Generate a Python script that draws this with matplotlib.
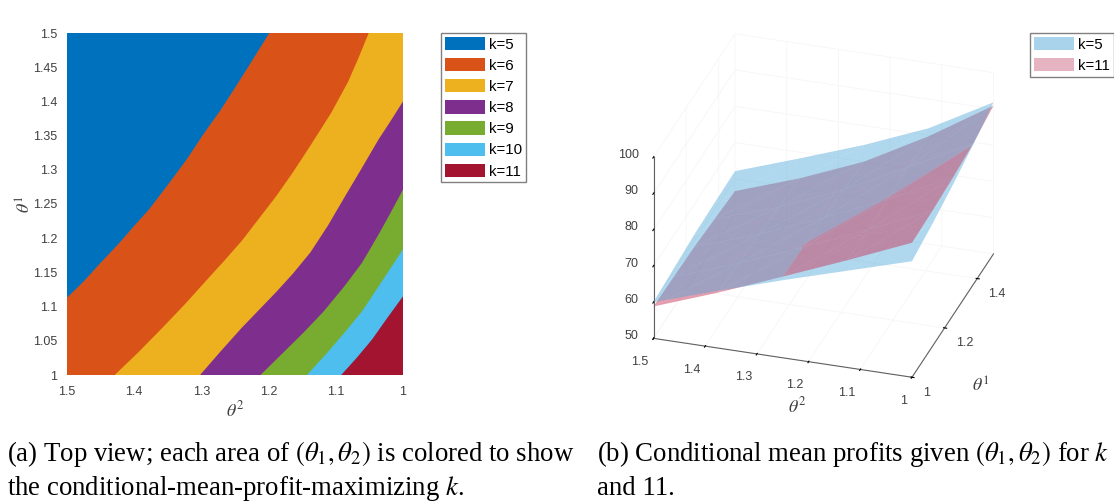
import matplotlib
matplotlib.use("Agg")
import matplotlib.pyplot as plt
from matplotlib.patches import Patch
from mpl_toolkits.mplot3d.art3d import Poly3DCollection
import numpy as np

plt.rcParams["font.family"] = ["Liberation Sans", "DejaVu Sans"]
plt.rcParams["mathtext.fontset"] = "stix"

W, H = 1114, 501

# =========================
# Left panel data: boundaries between k regions (theta2, theta1)
# =========================

k_labels = ["k=5", "k=6", "k=7", "k=8", "k=9", "k=10", "k=11"]
k_colors = ["#0072BD", "#D95319", "#EDB120", "#7E2F8E", "#77AC30", "#4DBEEE", "#A2142F"]

b56_t2 = [1.5, 1.475, 1.45, 1.424, 1.4, 1.378, 1.35, 1.322, 1.297, 1.271, 1.25, 1.23, 1.199]
b56_t1 = [1.113, 1.137, 1.164, 1.191, 1.218, 1.242, 1.278, 1.315, 1.352, 1.388, 1.42, 1.451, 1.5]
b67_t2 = [1.429, 1.394, 1.358, 1.325, 1.291, 1.266, 1.24, 1.189, 1.164, 1.138, 1.107, 1.082, 1.066, 1.051]
b67_t1 = [1.0, 1.033, 1.069, 1.103, 1.14, 1.167, 1.196, 1.261, 1.296, 1.335, 1.383, 1.428, 1.464, 1.5]
b78_t2 = [1.302, 1.271, 1.24, 1.189, 1.164, 1.138, 1.112, 1.087, 1.061, 1.036, 1.018, 1.0]
b78_t1 = [1.0, 1.035, 1.069, 1.121, 1.148, 1.179, 1.218, 1.26, 1.303, 1.345, 1.372, 1.4]
b89_t2 = [1.212, 1.181, 1.148, 1.118, 1.087, 1.061, 1.036, 1.018, 1.0]
b89_t1 = [1.0, 1.03, 1.062, 1.093, 1.13, 1.164, 1.206, 1.238, 1.271]
b910_t2 = [1.143, 1.115, 1.087, 1.061, 1.036, 1.018, 1.0]
b910_t1 = [1.0, 1.03, 1.062, 1.093, 1.13, 1.157, 1.184]
b1011_t2 = [1.092, 1.069, 1.046, 1.023, 1.0]
b1011_t1 = [1.0, 1.025, 1.052, 1.084, 1.115]

boundaries = [(b56_t2, b56_t1), (b67_t2, b67_t1), (b78_t2, b78_t1),
              (b89_t2, b89_t1), (b910_t2, b910_t1), (b1011_t2, b1011_t1)]

x_ticks_left = [1.5, 1.4, 1.3, 1.2, 1.1, 1.0]
x_labels_left = ["1.5", "1.4", "1.3", "1.2", "1.1", "1"]
y_ticks_left = [1, 1.05, 1.1, 1.15, 1.2, 1.25, 1.3, 1.35, 1.4, 1.45, 1.5]
y_labels_left = ["1", "1.05", "1.1", "1.15", "1.2", "1.25", "1.3", "1.35", "1.4", "1.45", "1.5"]

# =========================
# Right panel data: surfaces on a 5x5 grid
# =========================

theta2_grid = [1.5, 1.375, 1.25, 1.125, 1.0]
theta1_grid = [1.0, 1.125, 1.25, 1.375, 1.5]
# rows follow theta1_grid, columns follow theta2_grid
profit_k5 = [[60.0, 65.8, 71.4, 76.7, 82.0],
             [60.8, 66.9, 72.7, 78.2, 83.8],
             [61.6, 67.9, 74.0, 79.9, 86.0],
             [61.9, 68.2, 74.4, 81.2, 88.6],
             [62.1, 68.3, 74.7, 82.0, 91.8]]
profit_k11 = [[58.8, 65.3, 72.4, 79.6, 87.1],
              [58.5, 64.9, 72.0, 79.5, 87.4],
              [58.2, 64.4, 71.6, 79.4, 88.0],
              [57.4, 63.4, 70.9, 79.8, 88.9],
              [56.6, 62.8, 70.1, 79.8, 90.9]]

x_ticks_right = [1.5, 1.4, 1.3, 1.2, 1.1, 1.0]
x_labels_right = ["1.5", "1.4", "1.3", "1.2", "1.1", "1"]
y_ticks_right = [1.0, 1.2, 1.4]
y_labels_right = ["1", "1.2", "1.4"]
z_ticks_right = [50, 60, 70, 80, 90, 100]

TICK_COLOR = "#404040"
BLUE = "#4FA8D8"
PINK = "#C83C5F"


def px_axes(left, top, right, bottom):
    return [left / W, 1 - bottom / H, (right - left) / W, (bottom - top) / H]


fig = plt.figure(figsize=(W / 100, H / 100), dpi=100)

# =========================
# Left panel
# =========================

ax = fig.add_axes(px_axes(67, 33, 403, 375))
ax.set_xlim(1.5, 1.0)
ax.set_ylim(1.0, 1.5)
ax.set_facecolor(k_colors[0])

# each later region is painted over the one before it
for (b_t2, b_t1), color in zip(boundaries, k_colors[1:]):
    xs = list(b_t2)
    ys = list(b_t1)
    if xs[-1] > 1.0:
        xs.append(1.0)
        ys.append(1.5)
    xs.append(1.0)
    ys.append(1.0)
    xs.append(xs[0])
    ys.append(1.0)
    ax.fill(xs, ys, color=color, lw=0)

ax.set_xticks(x_ticks_left, x_labels_left)
ax.set_yticks(y_ticks_left, y_labels_left)
ax.tick_params(length=0, labelsize=9, labelcolor=TICK_COLOR)
ax.tick_params(axis="x", pad=8)
ax.tick_params(axis="y", pad=7)
for s in ax.spines.values():
    s.set_visible(False)
ax.set_xlabel(r"$\theta^2$", fontsize=13, color=TICK_COLOR, labelpad=2)
ax.set_ylabel(r"$\theta^1$", fontsize=13, color=TICK_COLOR, labelpad=-1)

legend_style = dict(loc="upper left", fontsize=10.8, frameon=True, fancybox=False,
                    edgecolor="#808080", framealpha=1, borderaxespad=0, borderpad=0.25,
                    handlelength=2.67, handleheight=1.0, handletextpad=0.3, labelspacing=0.42)

left_handles = [Patch(facecolor=c, edgecolor="none", label=l) for c, l in zip(k_colors, k_labels)]
fig.legend(handles=left_handles, bbox_to_anchor=(441 / W, 1 - 33 / H), **legend_style)

# =========================
# Right panel
# =========================

ax3 = fig.add_axes(px_axes(596, 25.5, 1041, 395.5), projection="3d", computed_zorder=False)
ax3.set_proj_type("ortho")
ax3.view_init(elev=28.5, azim=-72.5)
ax3.set_xlim(1.5, 1.0)
ax3.set_ylim(1.0, 1.5)
ax3.set_zlim(50, 100)
ax3.set_box_aspect((1, 1, 0.761), zoom=1.142)
ax3.patch.set_alpha(0)

Z5 = np.array(profit_k5)
Z11 = np.array(profit_k11)

# each grid cell is split into two triangles, the higher surface goes on top
tri_under = []
tri_over = []
for i in range(Z5.shape[0] - 1):
    for j in range(Z5.shape[1] - 1):
        for tri in ([(i, j), (i, j + 1), (i + 1, j + 1)], [(i, j), (i + 1, j), (i + 1, j + 1)]):
            pts5 = [(theta2_grid[c], theta1_grid[r], Z5[r, c]) for r, c in tri]
            pts11 = [(theta2_grid[c], theta1_grid[r], Z11[r, c]) for r, c in tri]
            if np.mean([Z5[r, c] for r, c in tri]) >= np.mean([Z11[r, c] for r, c in tri]):
                tri_under.append((pts11, PINK, 0.5))
                tri_over.append((pts5, BLUE, 0.45))
            else:
                tri_under.append((pts5, BLUE, 0.45))
                tri_over.append((pts11, PINK, 0.5))

for layer, z in ((tri_under, 2), (tri_over, 3)):
    for pts, color, alpha in layer:
        poly = Poly3DCollection([pts], facecolors=color, alpha=alpha, linewidths=0, zorder=z)
        ax3.add_collection3d(poly)

ax3.set_xticks(x_ticks_right, x_labels_right)
ax3.set_yticks(y_ticks_right, y_labels_right)
ax3.set_zticks(z_ticks_right)
ax3.tick_params(labelsize=9, labelcolor=TICK_COLOR, pad=-2)
ax3.tick_params(axis="x", pad=0)
for label in ax3.get_xticklabels():
    label.set_ha("right")
for label in ax3.get_yticklabels():
    label.set_ha("left")
for label in ax3.get_zticklabels():
    label.set_ha("right")
    label.set_va("bottom")
for axis in (ax3.xaxis, ax3.yaxis, ax3.zaxis):
    axis.set_pane_color((1, 1, 1, 0))
    axis.pane.set_edgecolor((1, 1, 1, 0))
    axis.line.set_color("#606060")
    axis.line.set_linewidth(0.8)
    axis._axinfo["grid"]["color"] = "#f6f6f6"
    axis._axinfo["grid"]["linewidth"] = 0.6
    axis._axinfo["tick"]["color"] = "#606060"
    axis._axinfo["tick"]["inward_factor"] = 0.1
    axis._axinfo["tick"]["outward_factor"] = 0.05
ax3.zaxis.set_ticks_position("lower")

# mplot3d can only place axis labels at the middle of the edge
fig.text(797 / W, 1 - 406 / H, r"$\theta^2$", fontsize=13, color=TICK_COLOR, ha="center", va="center")
fig.text(981 / W, 1 - 386 / H, r"$\theta^1$", fontsize=13, color=TICK_COLOR, ha="center", va="center")

right_handles = [Patch(facecolor="#A9D3EB", edgecolor="none", label="k=5"),
                 Patch(facecolor="#E6B3C0", edgecolor="none", label="k=11")]
fig.legend(handles=right_handles, bbox_to_anchor=(1030 / W, 1 - 33 / H), **legend_style)

# =========================
# Captions
# =========================

cap = dict(fontsize=19.3, family=["Liberation Serif", "DejaVu Serif"], va="baseline", color="black")
fig.text(7 / W, 1 - 461 / H, r"(a) Top view; each area of $\left(\theta_1,\theta_2\right)$ is colored to show", **cap)
fig.text(7 / W, 1 - 495 / H, r"the conditional-mean-profit-maximizing $k$.", **cap)
fig.text(597 / W, 1 - 461 / H, r"(b) Conditional mean profits given $\left(\theta_1,\theta_2\right)$ for $k$", **cap)
fig.text(597 / W, 1 - 495 / H, "and 11.", **cap)

fig.savefig("out.png", dpi=100)
